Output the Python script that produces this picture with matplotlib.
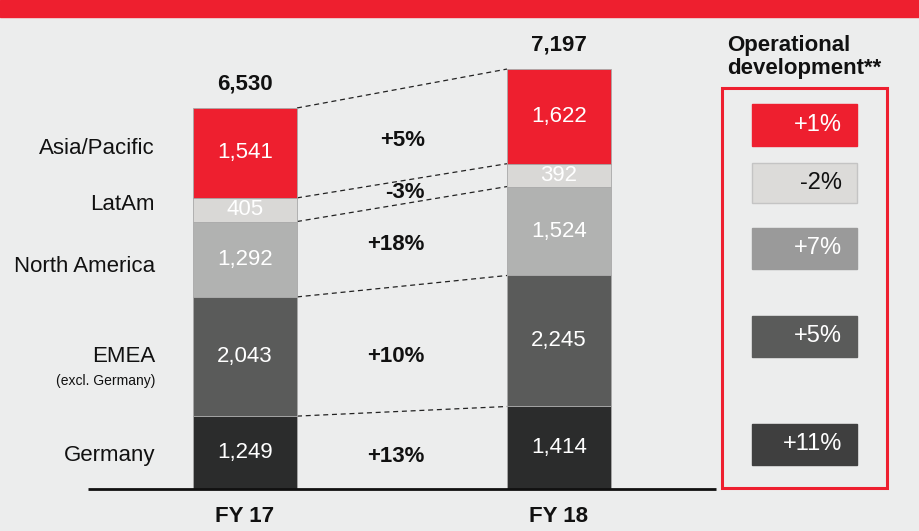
import matplotlib
matplotlib.use('Agg')
import matplotlib.pyplot as plt
from matplotlib.patches import Rectangle
from matplotlib.transforms import Affine2D

plt.rcParams['font.family'] = ['Liberation Sans', 'DejaVu Sans']

# ──────────────────────────────────────────────
# 데이터
# ──────────────────────────────────────────────
years = ['FY 17', 'FY 18']
regions = ['Germany', 'EMEA', 'North America', 'LatAm', 'Asia/Pacific']
fy17 = [1249, 2043, 1292, 405, 1541]
fy18 = [1414, 2245, 1524, 392, 1622]
growth = ['+13%', '+10%', '+18%', '-3%', '+5%']
operational = ['+11%', '+5%', '+7%', '-2%', '+1%']

colors = ['#2B2C2C', '#5A5B5A', '#B1B2B1', '#D9D8D6', '#EE1F2F']
op_colors = ['#3F3F3F', '#5A5B5A', '#9A9A9A', '#DCDBD9', '#EE1F2F']
op_text = ['white', 'white', 'white', '#111111', 'white']
BG = '#ECEDED'
RED = '#EE1F2F'

W, H = 920, 531
BASE = 489          # baseline in px from top
K = 0.05835         # px per unit

fig = plt.figure(figsize=(W / 100, H / 100), dpi=100, facecolor=BG)
ax = fig.add_axes([0, 0, 1, 1])
ax.set_facecolor(BG)
ax.set_xlim(0, W)
ax.set_ylim(-(H - BASE) / K, BASE / K)
ax.axis('off')

# pixel transform (x right, y down from top)
px = Affine2D().scale(1 / W, -1 / H).translate(0, 1) + fig.transFigure

# 상단 배너
fig.patches.append(Rectangle((0, 0), W, 17, transform=px, color=RED, zorder=0))

# 스택 바
xs = [245, 559]
bw = 104
for xi, vals in zip(xs, [fy17, fy18]):
    bottom = 0
    for v, c in zip(vals, colors):
        ax.bar(xi, v, bottom=bottom, width=bw, color=c, edgecolor='#A8A8A8',
               linewidth=0.6, zorder=2)
        ax.text(xi, bottom + v / 2, f'{v:,}', ha='center', va='center',
                fontsize=16, color='white', zorder=3)
        bottom += v
    ax.text(xi, bottom + 230, f'{bottom:,}', ha='center', va='bottom',
            fontsize=16, fontweight='bold', color='#111111')

# 연결 점선
c17 = 0
c18 = 0
for v17, v18 in zip(fy17, fy18):
    c17 += v17
    c18 += v18
    ax.plot([xs[0] + bw / 2, xs[1] - bw / 2], [c17, c18], ls=(0, (4, 3)),
            color='#222222', lw=0.9, zorder=1)

# 기준선
ax.plot([88, 716], [0, 0], color='#111111', lw=2, zorder=4, solid_capstyle='butt')

# X 라벨
for xi, yr in zip(xs, years):
    fig.text(xi, 516, yr, transform=px, ha='center', va='center',
             fontsize=16, fontweight='bold', color='#111111')

# 지역 라벨
label_y = [455, 357, 267, 204, 149]
for name, y in zip(regions, label_y):
    fig.text(155, y, name, transform=px, ha='right', va='center',
             fontsize=16, color='#111111')
fig.text(155, 381, '(excl. Germany)', transform=px, ha='right', va='center',
         fontsize=10, color='#111111')

# 성장률
growth_y = [456, 357, 244, 193, 141]
for g, y in zip(growth, growth_y):
    fig.text(425, y, g, transform=px, ha='right', va='center',
             fontsize=16, fontweight='bold', color='#111111')

# 오른쪽 패널
fig.text(727, 57, 'Operational\ndevelopment**', transform=px, ha='left',
         va='center', fontsize=16, fontweight='bold', color='#111111',
         linespacing=1.08)
fig.patches.append(Rectangle((722, 88), 165, 400, transform=px, fill=False,
                             edgecolor=RED, linewidth=2.2))
box_y = [(424, 465), (316, 357), (228, 269), (163, 203), (104, 146)]
for (y0, y1), val, c, tc in zip(box_y, operational, op_colors, op_text):
    ec = '#C4C4C4' if c == '#DCDBD9' else c
    fig.patches.append(Rectangle((752, y0), 105, y1 - y0, transform=px,
                                 facecolor=c, edgecolor=ec, linewidth=1))
    fig.text(842, (y0 + y1) / 2, val, transform=px, ha='right', va='center',
             fontsize=17, color=tc)

fig.savefig('out.png', dpi=100, facecolor=BG)
